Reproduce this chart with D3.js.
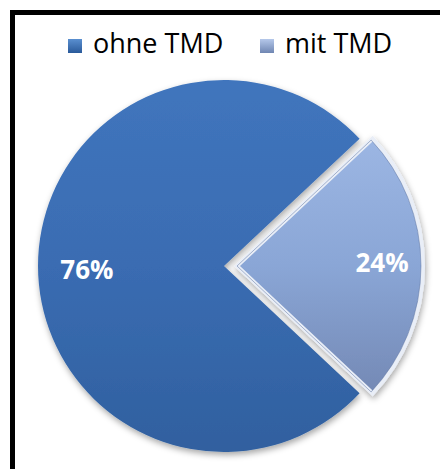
<!DOCTYPE html>
<html><head><meta charset="utf-8">
<script src="https://cdn.jsdelivr.net/npm/d3@7"></script>
<style>html,body{margin:0;padding:0;background:#fff;}svg{display:block;}</style>
</head><body>
<svg id="c" width="440" height="469"></svg>
<script>
const categories = ["ohne TMD", "mit TMD"];
const values = [76, 24];
const labels = ["76%", "24%"];

const svg = d3.select("#c");
const defs = svg.append("defs");

// gradients
const grads = [
  {id: "g0", stops: ["#4075bd", "#3a6cb2", "#30609f"]},
  {id: "g1", stops: ["#9cb6e3", "#8aa6d6", "#7489b5"]}
];
grads.forEach(g => {
  const lg = defs.append("linearGradient").attr("id", g.id)
    .attr("x1", 0).attr("y1", 0).attr("x2", 0).attr("y2", 1);
  g.stops.forEach((c, i) => lg.append("stop").attr("offset", i / (g.stops.length - 1)).attr("stop-color", c));
});
const lgSw = [["s0", "#2a5a9a", "#5a8fd0"], ["s1", "#6f86b2", "#b5c8ea"]];
lgSw.forEach(s => {
  const lg = defs.append("linearGradient").attr("id", s[0]).attr("x1", 0).attr("y1", 1).attr("x2", 0).attr("y2", 0);
  lg.append("stop").attr("offset", 0).attr("stop-color", s[1]);
  lg.append("stop").attr("offset", 1).attr("stop-color", s[2]);
});
const f = defs.append("filter").attr("id", "sh").attr("x", "-20%").attr("y", "-20%").attr("width", "140%").attr("height", "140%");
f.append("feDropShadow").attr("dx", 1).attr("dy", 3).attr("stdDeviation", 3).attr("flood-color", "#000").attr("flood-opacity", 0.35);

// frame
svg.append("rect").attr("x", 12.5).attr("y", 12.5).attr("width", 440).attr("height", 470)
  .attr("fill", "none").attr("stroke", "#000").attr("stroke-width", 5);

// pie
const cx = 224, cy = 266, R = 186, explode = 13;
const colors = ["url(#g0)", "url(#g1)"];
const smallFrac = values[1] / d3.sum(values);
const start = Math.PI / 2 + smallFrac * Math.PI;
const pieGen = d3.pie().sort(null).value(d => d).startAngle(start).endAngle(start + 2 * Math.PI);
const arcs = pieGen(values);
const arc = d3.arc().innerRadius(0).outerRadius(R);

const g = svg.append("g").attr("transform", `translate(${cx},${cy})`);
const labelFrac = [0.737, 0.78];
const labelDy = [6.5, -1];
arcs.forEach((a, i) => {
  const mid = (a.startAngle + a.endAngle) / 2;
  const off = i === 1 ? explode : 0;
  const ox = Math.sin(mid) * off, oy = -Math.cos(mid) * off;
  const sg = g.append("g").attr("transform", `translate(${ox},${oy})`);
  sg.append("path").attr("d", arc(a)).attr("fill", colors[i])
    .attr("stroke", i === 1 ? "#e9eef7" : "none").attr("stroke-width", i === 1 ? 4 : 0)
    .attr("stroke-linejoin", "miter")
    .attr("filter", "url(#sh)");
  if (i === 1) {
    sg.append("path").attr("d", d3.arc().innerRadius(0).outerRadius(R - 2)(a))
      .attr("fill", "none").attr("stroke", "#5e73a0").attr("stroke-width", 1).attr("opacity", 0.5);
  }
  const lr = R * labelFrac[i];
  sg.append("text").attr("x", Math.sin(mid) * lr).attr("y", -Math.cos(mid) * lr + labelDy[i])
    .attr("text-anchor", "middle").attr("dominant-baseline", "middle")
    .attr("font-family", "'Open Sans', sans-serif").attr("font-weight", "bold").attr("font-size", 26)
    .attr("fill", "#fff").text(labels[i]);
});

// legend
const legX = [68, 260];
const leg = svg.append("g");
categories.forEach((c, i) => {
  leg.append("rect").attr("x", legX[i]).attr("y", 39).attr("width", 14).attr("height", 14)
    .attr("fill", `url(#s${i})`);
  leg.append("text").attr("x", legX[i] + 25).attr("y", 53)
    .attr("font-family", "'Open Sans', sans-serif").attr("font-size", 27).attr("fill", "#000").text(c);
});
</script>
</body></html>
